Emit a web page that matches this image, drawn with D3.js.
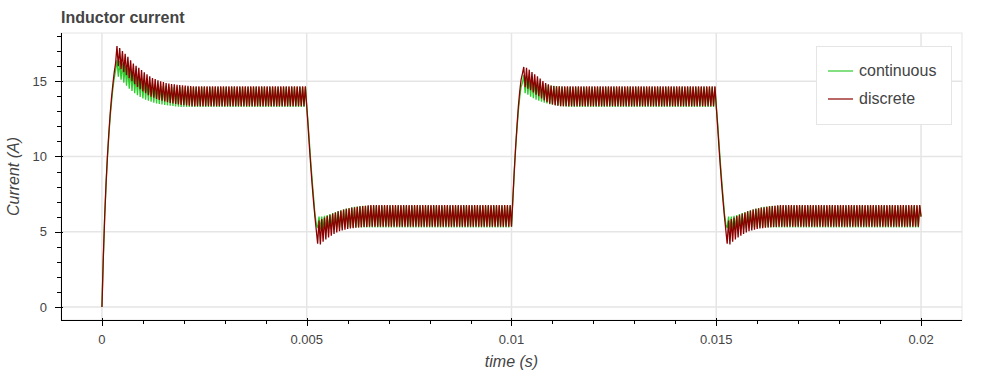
<!DOCTYPE html>
<html lang="en">
<head>
<meta charset="UTF-8">
<title>Inductor current</title>
<script src="https://d3js.org/d3.v7.min.js"></script>
<style>
  body { margin: 0; background: #fff; }
  text { font-family: "Liberation Sans", Arial, Helvetica, sans-serif; }
</style>
</head>
<body>
<div id="chart"></div>
<script>
// switching periods per half cycle of the reference (0.005 s each)
const halfCycle = 0.005;
const periods = 75;
const segmentStarts = [0, 0.005, 0.01, 0.015];
const endTime = 0.02;
const endValue = 6.0;

// values read per switching period: "A" at the start of a period, "B" half way
// discrete model
const discRiseFromZeroA = [0, 6.0, 10.0, 12.8, 14.8, 16.2, 16.0, 15.8, 15.6, 15.4, 15.2, 15.0, 14.8, 14.62, 14.47, 14.33, 14.2, 14.08, 13.98, 13.9, 13.82, 13.76, 13.7, 13.65, 13.6, 13.56, 13.52, 13.49, 13.46, 13.43, 13.41, 13.39, 13.37, 13.35];
const discRiseFromZeroB = [3.3, 8.2, 11.5, 13.9, 15.6, 17.34, 17.2, 17.0, 16.83, 16.62, 16.4, 16.17, 16.03, 15.9, 15.75, 15.6, 15.46, 15.33, 15.22, 15.14, 15.07, 15.0, 14.95, 14.88, 14.85, 14.82, 14.79, 14.77, 14.75, 14.73, 14.71, 14.7, 14.68];
const discFallA = [13.34, 10.6, 8.1, 6.0, 4.2, 4.16, 4.33, 4.49, 4.62, 4.73, 4.85, 4.95, 5.03, 5.09, 5.14, 5.18, 5.21, 5.24, 5.26, 5.28, 5.3, 5.31, 5.32];
const discFallB = [12.0, 9.3, 7.0, 5.1, 5.75, 5.85, 5.95, 6.05, 6.13, 6.2, 6.28, 6.35, 6.41, 6.47, 6.52, 6.56, 6.6, 6.63, 6.66, 6.69, 6.71, 6.73, 6.75];
const discRiseA = [5.33, 9.0, 12.0, 14.3, 15.5, 14.6, 14.5, 14.4, 14.25, 14.1, 14.0, 13.85, 13.72, 13.6, 13.5, 13.45, 13.4, 13.37, 13.35];
const discRiseB = [7.2, 10.6, 13.3, 15.1, 15.95, 15.9, 15.77, 15.61, 15.46, 15.33, 15.18, 15.02, 14.88, 14.8, 14.71, 14.68, 14.67];

// continuous model
const contRiseFromZeroA = [0, 6.0, 9.9, 12.6, 14.5, 15.7, 15.3, 15.1, 14.9, 14.7, 14.5, 14.35, 14.2, 14.07, 13.95, 13.85, 13.78, 13.7, 13.64, 13.58, 13.53, 13.49, 13.45, 13.42, 13.4, 13.38, 13.36, 13.33, 13.31];
const contRiseFromZeroB = [3.3, 8.1, 11.3, 13.6, 15.2, 16.4, 16.35, 16.2, 16.05, 15.9, 15.75, 15.6, 15.45, 15.32, 15.2, 15.1, 15.0, 14.92, 14.85, 14.8, 14.75, 14.72, 14.7, 14.68, 14.65, 14.63];
const contFallA = [13.34, 10.9, 8.4, 6.2, 5.25, 5.15, 5.12, 5.14, 5.17, 5.2, 5.22, 5.24, 5.26, 5.28, 5.29, 5.3];
const contFallB = [12.2, 9.6, 7.3, 5.5, 6.0, 6.0, 6.05, 6.1, 6.17, 6.24, 6.3, 6.37, 6.43, 6.49, 6.54, 6.58, 6.62, 6.65, 6.68, 6.7, 6.72];
const contRiseA = [5.33, 8.9, 11.8, 13.9, 14.9, 14.2, 14.1, 13.98, 13.87, 13.78, 13.7, 13.64, 13.58, 13.53, 13.48, 13.44, 13.41, 13.38, 13.35, 13.33, 13.31];
const contRiseB = [7.1, 10.5, 13.0, 14.6, 15.4, 15.35, 15.25, 15.15, 15.05, 14.96, 14.9, 14.84, 14.79, 14.75, 14.72, 14.7, 14.68, 14.66, 14.64];

// settled ripple levels [A, B]
const discHighLevel = [13.34, 14.66];
const discLowLevel = [5.33, 6.77];
const contHighLevel = [13.3, 14.62];
const contLowLevel = [5.29, 6.73];

const xTicks = [0, 0.005, 0.01, 0.015, 0.02];
const yTicks = [0, 5, 10, 15];

const series = [
  { name: "continuous", color: "#2ecc2e",
    segments: [[contRiseFromZeroA, contRiseFromZeroB, contHighLevel], [contFallA, contFallB, contLowLevel],
               [contRiseA, contRiseB, contHighLevel], [contFallA, contFallB, contLowLevel]] },
  { name: "discrete", color: "#8b0000",
    segments: [[discRiseFromZeroA, discRiseFromZeroB, discHighLevel], [discFallA, discFallB, discLowLevel],
               [discRiseA, discRiseB, discHighLevel], [discFallA, discFallB, discLowLevel]] }
];

function buildPoints(s) {
  const T = halfCycle / periods;
  const pts = [];
  s.segments.forEach(function(seg, i) {
    const t0 = segmentStarts[i];
    for (let k = 0; k < periods; k++) {
      const a = k < seg[0].length ? seg[0][k] : seg[2][0];
      const b = k < seg[1].length ? seg[1][k] : seg[2][1];
      pts.push([t0 + k * T, a]);
      pts.push([t0 + (k + 0.5) * T, b]);
    }
  });
  pts.push([endTime, endValue]);
  return pts;
}
series.forEach(function(s) { s.points = buildPoints(s); });

const W = 1000, H = 375;
const margin = { top: 33, right: 38, bottom: 55, left: 61 };

const svg = d3.select("#chart").append("svg")
  .attr("width", W).attr("height", H);

// auto range with 5% padding each side
const tMax = endTime, tMin = 0;
const vMax = d3.max(series, s => d3.max(s.points, p => p[1]));
const vMin = d3.min(series, s => d3.min(s.points, p => p[1]));
const tPad = (tMax - tMin) * 0.05, vPad = (vMax - vMin) * 0.05;

const x = d3.scaleLinear().domain([tMin - tPad, tMax + tPad]).range([margin.left, W - margin.right]);
const y = d3.scaleLinear().domain([vMin - vPad, vMax + vPad]).range([H - margin.bottom, margin.top]);

const x0 = margin.left, x1 = W - margin.right, y0 = H - margin.bottom, y1 = margin.top;

// grid
svg.append("g").selectAll("line").data(xTicks).join("line")
  .attr("x1", d => x(d)).attr("x2", d => x(d)).attr("y1", y1).attr("y2", y0)
  .attr("stroke", "#e5e5e5").attr("stroke-width", 1.5);
svg.append("g").selectAll("line").data(yTicks).join("line")
  .attr("x1", x0).attr("x2", x1).attr("y1", d => y(d)).attr("y2", d => y(d))
  .attr("stroke", "#e5e5e5").attr("stroke-width", 1.5);

// outline
svg.append("rect").attr("x", x0).attr("y", y1).attr("width", x1 - x0).attr("height", y0 - y1)
  .attr("fill", "none").attr("stroke", "#e5e5e5").attr("stroke-width", 1);

// lines
const line = d3.line().x(d => x(d[0])).y(d => y(d[1]));
svg.append("g").selectAll("path").data(series).join("path")
  .attr("fill", "none")
  .attr("stroke", d => d.color)
  .attr("stroke-width", 1.3)
  .attr("d", d => line(d.points));

// axes
const axisColor = "#000";
const xMinor = d3.range(0, 0.0205, 0.001).filter(v => !xTicks.some(t => Math.abs(t - v) < 1e-9));
const yMinor = d3.range(0, 18.01, 1).filter(v => v % 5 !== 0);

const gx = svg.append("g");
gx.append("line").attr("x1", x0).attr("x2", x1).attr("y1", y0 + 0.5).attr("y2", y0 + 0.5)
  .attr("stroke", axisColor);
gx.selectAll(".maj").data(xTicks).join("line").attr("class", "maj")
  .attr("x1", d => Math.round(x(d)) + 0.5).attr("x2", d => Math.round(x(d)) + 0.5)
  .attr("y1", y0 - 2).attr("y2", y0 + 6).attr("stroke", axisColor);
gx.selectAll(".min").data(xMinor).join("line").attr("class", "min")
  .attr("x1", d => Math.round(x(d)) + 0.5).attr("x2", d => Math.round(x(d)) + 0.5)
  .attr("y1", y0).attr("y2", y0 + 4).attr("stroke", axisColor);
gx.selectAll("text").data(xTicks).join("text")
  .attr("x", d => x(d)).attr("y", y0 + 24)
  .attr("text-anchor", "middle").attr("font-size", 13).attr("fill", "#444")
  .text(d => d3.format("")(d));

const gy = svg.append("g");
gy.append("line").attr("x1", x0 + 0.5).attr("x2", x0 + 0.5).attr("y1", y1).attr("y2", y0)
  .attr("stroke", axisColor);
gy.selectAll(".maj").data(yTicks).join("line").attr("class", "maj")
  .attr("x1", x0 - 6).attr("x2", x0 + 2)
  .attr("y1", d => Math.round(y(d)) + 0.5).attr("y2", d => Math.round(y(d)) + 0.5).attr("stroke", axisColor);
gy.selectAll(".min").data(yMinor).join("line").attr("class", "min")
  .attr("x1", x0 - 4).attr("x2", x0)
  .attr("y1", d => Math.round(y(d)) + 0.5).attr("y2", d => Math.round(y(d)) + 0.5).attr("stroke", axisColor);
gy.selectAll("text").data(yTicks).join("text")
  .attr("x", x0 - 14).attr("y", d => y(d)).attr("dy", "0.36em")
  .attr("text-anchor", "end").attr("font-size", 13).attr("fill", "#444")
  .text(d => d);

// axis labels and title
svg.append("text").attr("x", (x0 + x1) / 2).attr("y", 367)
  .attr("text-anchor", "middle").attr("font-size", 16).attr("font-style", "italic").attr("fill", "#444")
  .text("time (s)");
svg.append("text").attr("transform", `translate(19,${(y0 + y1) / 2}) rotate(-90)`)
  .attr("text-anchor", "middle").attr("font-size", 16).attr("font-style", "italic").attr("fill", "#444")
  .text("Current (A)");
svg.append("text").attr("x", 61).attr("y", 23)
  .attr("font-size", 16).attr("font-weight", "bold").attr("fill", "#444")
  .text("Inductor current");

// legend
const lg = svg.append("g").attr("transform", "translate(816,46)");
lg.append("rect").attr("x", 0.5).attr("y", 0.5).attr("width", 135).attr("height", 78)
  .attr("fill", "#fff").attr("stroke", "#e5e5e5");
const items = lg.selectAll(".item").data(series).join("g").attr("class", "item")
  .attr("transform", (d, i) => `translate(0,${25 + i * 28})`);
items.append("line").attr("x1", 12).attr("x2", 37).attr("y1", 0).attr("y2", 0)
  .attr("stroke", d => d.color).attr("stroke-width", 1.2);
items.append("text").attr("x", 43).attr("y", 0).attr("dy", "0.34em")
  .attr("font-size", 16).attr("fill", "#444").text(d => d.name);
</script>
</body>
</html>
